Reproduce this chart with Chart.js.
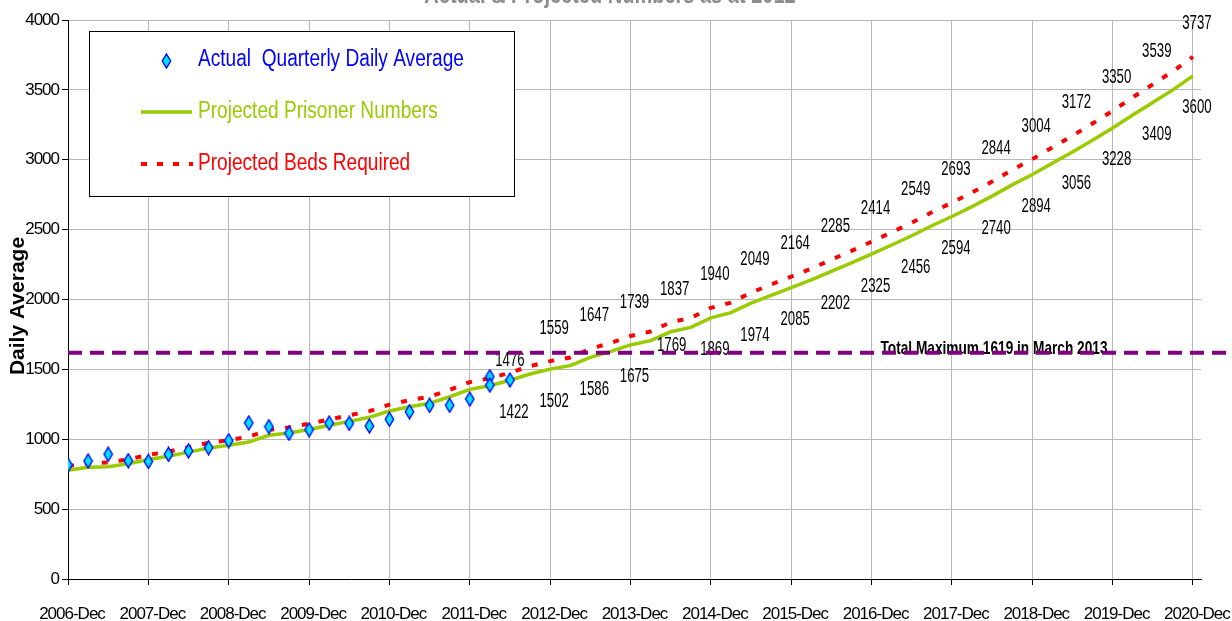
<!DOCTYPE html>
<html>
<head>
<meta charset="utf-8">
<script src="https://cdn.jsdelivr.net/npm/chart.js@4.4.0/dist/chart.umd.min.js"></script>
<style>
  html, body { margin: 0; padding: 0; background: #fff; }
</style>
</head>
<body>
<canvas id="prisonChart" width="1232" height="621"></canvas>
<script>
// quarters counted from 2006-Dec (0) to 2020-Dec (56)
const yearLabels = ["2006-Dec", "2007-Dec", "2008-Dec", "2009-Dec", "2010-Dec", "2011-Dec", "2012-Dec",
    "2013-Dec", "2014-Dec", "2015-Dec", "2016-Dec", "2017-Dec", "2018-Dec", "2019-Dec", "2020-Dec"];

const actualQuarter = [0, 1, 2, 3, 4, 5, 6, 7, 8, 9, 10, 11, 12, 13, 14, 15, 16, 17, 18, 19, 20, 21, 21, 22];
const actualValues = [816, 844, 893, 847, 841, 892, 917, 940, 990, 1117, 1090, 1043, 1068, 1116,
    1114, 1095, 1143, 1197, 1243, 1243, 1288, 1448, 1388, 1424];

const prisonerNumbers = [778, 800, 803, 825, 855, 878, 908, 938, 957, 980,
    1028, 1045, 1070, 1100, 1128, 1157, 1202, 1233, 1257, 1304,
    1357, 1383, 1422, 1467, 1502, 1527, 1586, 1627, 1675, 1706,
    1769, 1800, 1869, 1906, 1974, 2030, 2085, 2140, 2202, 2262,
    2325, 2390, 2456, 2528, 2594, 2665, 2740, 2820, 2894, 2975,
    3056, 3140, 3228, 3320, 3409, 3500, 3600];

const bedsRequired = [808, 830, 834, 856, 888, 911, 943, 974, 993, 1017,
    1067, 1085, 1111, 1142, 1171, 1201, 1248, 1280, 1305, 1354,
    1409, 1436, 1476, 1523, 1559, 1585, 1647, 1689, 1739, 1771,
    1837, 1868, 1940, 1978, 2049, 2107, 2164, 2221, 2285, 2348,
    2414, 2481, 2549, 2624, 2693, 2766, 2844, 2927, 3004, 3088,
    3172, 3259, 3350, 3446, 3539, 3633, 3737];

const maxCapacity = 1619;
const maxCapacityText = "Total Maximum 1619 in March 2013";
const firstLabelled = 22; // data labels every half year from 2012-Jun

const chartTitle = "Actual & Projected Numbers as at 2012";
const yTitle = "Daily Average";
const seriesNames = ["Actual  Quarterly Daily Average", "Projected Prisoner Numbers", "Projected Beds Required"];

const FONT = '"Liberation Sans", Arial, sans-serif';
const GREEN = "#99cc00";
const RED = "#ff0000";
const PURPLE = "#800080";

// tall diamond marker
const diamond = document.createElement("canvas");
diamond.width = 11;
diamond.height = 16;
(function () {
    const c = diamond.getContext("2d");
    c.beginPath();
    c.moveTo(5.5, 1);
    c.lineTo(9.7, 8);
    c.lineTo(5.5, 15);
    c.lineTo(1.3, 8);
    c.closePath();
    c.fillStyle = "#00e0ff";
    c.fill();
    c.strokeStyle = "#0000ff";
    c.lineWidth = 1.4;
    c.stroke();
})();

// draw text squeezed horizontally
function squeeze(ctx, text, x, y, sx, align) {
    ctx.save();
    ctx.translate(x, y);
    ctx.scale(sx, 1);
    ctx.textAlign = align || "center";
    ctx.fillText(text, 0, 0);
    ctx.restore();
}

const decorPlugin = {
    id: "decor",
    beforeDraw(chart) {
        chart.ctx.letterSpacing = "-1px";
    },
    afterDatasetsDraw(chart) {
        const ctx = chart.ctx;
        const xs = chart.scales.x, ys = chart.scales.y;
        ctx.save();
        ctx.letterSpacing = "0px";
        ctx.fillStyle = "#000";
        ctx.textBaseline = "middle";
        ctx.font = "20px " + FONT;
        for (let i = firstLabelled; i < bedsRequired.length; i += 2) {
            const px = xs.getPixelForValue(i);
            const first = i === firstLabelled;
            squeeze(ctx, String(bedsRequired[i]), px + (first ? 0 : 4),
                ys.getPixelForValue(bedsRequired[i]) - (first ? 12 : 33), 0.66);
            const low = i === 30;
            squeeze(ctx, String(prisonerNumbers[i]), px + (low ? 1 : 4),
                ys.getPixelForValue(prisonerNumbers[i]) + (low ? 14 : 32), 0.66);
        }

        // capacity line and its note
        const yCap = ys.getPixelForValue(maxCapacity);
        ctx.font = "bold 19px " + FONT;
        ctx.textBaseline = "alphabetic";
        squeeze(ctx, maxCapacityText, chart.chartArea.left + 926, yCap + 1, 0.72);
        ctx.beginPath();
        ctx.setLineDash([14, 8]);
        ctx.lineWidth = 4;
        ctx.strokeStyle = PURPLE;
        ctx.moveTo(chart.chartArea.left, yCap);
        ctx.lineTo(chart.width - 2, yCap);
        ctx.stroke();
        ctx.restore();
    },
    afterDraw(chart) {
        const ctx = chart.ctx;
        const a = chart.chartArea;
        ctx.save();
        ctx.letterSpacing = "0px";

        // title, mostly cut off by the top edge
        ctx.fillStyle = "#8c8c8c";
        ctx.font = "bold 25px " + FONT;
        ctx.textBaseline = "alphabetic";
        squeeze(ctx, chartTitle, 610, 3, 0.8);

        // y axis title
        ctx.save();
        ctx.translate(18, 306);
        ctx.rotate(-Math.PI / 2);
        ctx.fillStyle = "#000";
        ctx.font = "bold 21px " + FONT;
        ctx.textAlign = "center";
        ctx.textBaseline = "middle";
        ctx.fillText(yTitle, 0, 0);
        ctx.restore();

        // legend box
        const bx = a.left + 21, by = a.top + 11, bw = 425, bh = 165;
        ctx.fillStyle = "#fff";
        ctx.fillRect(bx, by, bw, bh);
        ctx.strokeStyle = "#000";
        ctx.lineWidth = 1;
        ctx.strokeRect(bx + 0.5, by + 0.5, bw, bh);

        const rows = [by + 29, by + 81, by + 133];
        ctx.drawImage(diamond, bx + 72, rows[0] - 7);
        ctx.beginPath();
        ctx.strokeStyle = GREEN;
        ctx.lineWidth = 3.5;
        ctx.moveTo(bx + 52, rows[1]);
        ctx.lineTo(bx + 103, rows[1]);
        ctx.stroke();
        ctx.beginPath();
        ctx.strokeStyle = RED;
        ctx.lineWidth = 4;
        ctx.setLineDash([6, 10]);
        ctx.moveTo(bx + 52, rows[2]);
        ctx.lineTo(bx + 104, rows[2]);
        ctx.stroke();
        ctx.setLineDash([]);

        ctx.font = "23px " + FONT;
        ctx.textBaseline = "middle";
        const colours = ["#0000ff", GREEN, RED];
        seriesNames.forEach((name, k) => {
            ctx.fillStyle = colours[k];
            squeeze(ctx, name, bx + 109, rows[k], 0.83, "left");
        });
        ctx.restore();
    }
};

const axisGrid = { color: "#b8b8b8", tickColor: "#000", tickLength: 6 };

new Chart(document.getElementById("prisonChart"), {
    type: "line",
    data: {
        datasets: [
            {
                label: seriesNames[0],
                data: actualQuarter.map((q, i) => ({ x: q, y: actualValues[i] })),
                showLine: false,
                pointStyle: diamond,
                pointRadius: 7
            },
            {
                label: seriesNames[1],
                data: prisonerNumbers.map((v, i) => ({ x: i, y: v })),
                borderColor: GREEN,
                borderWidth: 3.5,
                pointRadius: 0,
                tension: 0
            },
            {
                label: seriesNames[2],
                data: bedsRequired.map((v, i) => ({ x: i, y: v })),
                borderColor: RED,
                borderWidth: 4,
                borderDash: [6, 11],
                borderCapStyle: "butt",
                pointRadius: 0,
                tension: 0
            }
        ]
    },
    options: {
        responsive: false,
        animation: false,
        layout: { padding: { top: 20, right: 31, left: 0, bottom: 0 } },
        plugins: { legend: { display: false }, tooltip: { enabled: false } },
        scales: {
            x: {
                type: "linear",
                min: 0,
                max: 56.4,
                afterBuildTicks: s => { s.ticks = yearLabels.map((_, k) => ({ value: k * 4 })); },
                afterFit: s => { s.height = 42; s.paddingLeft = 0; s.paddingRight = 0; },
                ticks: {
                    autoSkip: false,
                    maxRotation: 0,
                    padding: 19,
                    labelOffset: 4,
                    color: "#000",
                    font: { family: FONT, size: 17 },
                    callback: v => yearLabels[v / 4]
                },
                grid: axisGrid,
                border: { color: "#000", width: 1 }
            },
            y: {
                min: 0,
                max: 4000,
                afterFit: s => { s.width = 68; s.paddingTop = 0; s.paddingBottom = 0; },
                ticks: {
                    stepSize: 500,
                    padding: 3,
                    color: "#000",
                    font: { family: FONT, size: 17 },
                    callback: v => String(v)
                },
                grid: axisGrid,
                border: { color: "#000", width: 1 }
            }
        }
    },
    plugins: [decorPlugin]
});
</script>
</body>
</html>
